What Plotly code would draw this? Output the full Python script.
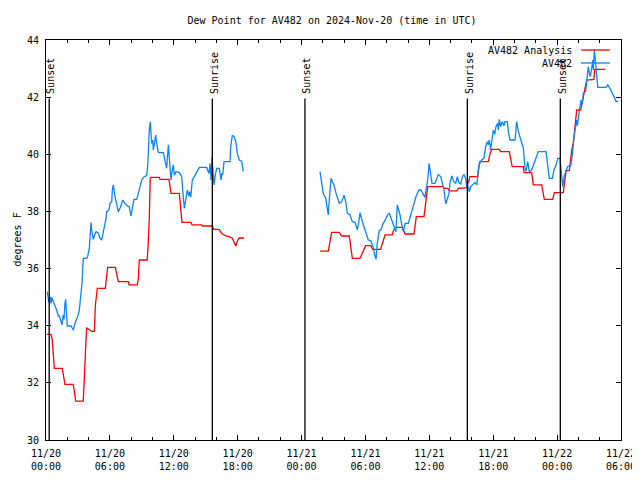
import pandas as pd
import plotly.graph_objects as go

# ---- data (hours since 2024-11-20 00:00 UTC, dew point in F) ----
START = "2024-11-20 00:00"

red_hours = [0.07, 0.47, 0.59, 0.69, 0.78, 1.53, 1.62, 1.78, 2.56, 2.70, 2.79, 3.50, 3.57, 3.66, 3.76, 3.82,
             4.07, 4.29, 4.54, 4.63, 4.82, 5.57, 5.66, 5.79, 6.51, 6.79, 7.73, 7.80, 8.57, 8.67, 8.76, 9.51,
             9.58, 9.70, 9.79, 9.86, 10.64, 10.71, 11.55, 11.74, 12.52, 12.61, 12.77, 13.62, 13.71, 14.62,
             14.69, 15.62, 15.75, 16.25, 16.50, 16.88, 17.19, 17.50, 17.82, 18.00, 18.13, 18.60,
             None,
             25.73, 26.51, 26.67, 26.83, 27.54, 27.77, 28.48, 28.62, 28.77, 29.49, 29.74, 30.02, 30.52, 30.68,
             31.43, 31.68, 31.84, 32.52, 32.62, 32.87, 33.46, 33.74, 34.56, 34.68, 34.78, 35.50, 35.59, 35.75,
             35.85, 37.31, 37.38, 37.72, 37.88, 38.57, 38.72, 39.51, 39.75, 39.82, 40.54, 40.60, 40.76, 41.54,
             41.70, 41.86, 42.57, 42.70, 43.51, 43.64, 43.78, 44.83, 44.89, 45.61, 45.76, 46.55, 46.70, 46.80,
             47.59, 47.74, 48.58, 48.68, 48.84, 49.15, 49.37, 49.52, 49.75, 49.84, 50.21, 50.46, 50.78, 51.45,
             51.54, 52.50]
red_vals = [33.70, 33.70, 33.50, 32.72, 32.51, 32.51, 32.24, 31.95, 31.95, 31.52, 31.36, 31.36, 31.81, 32.65,
            33.50, 33.93, 33.87, 33.80, 33.80, 34.69, 35.31, 35.31, 35.60, 36.04, 36.04, 35.54, 35.54, 35.43,
            35.43, 35.64, 36.30, 36.30, 36.77, 37.76, 39.16, 39.19, 39.19, 39.12, 39.12, 38.63, 38.63, 38.17,
            37.62, 37.62, 37.53, 37.53, 37.49, 37.49, 37.37, 37.37, 37.23, 37.14, 37.12, 37.06, 36.79, 36.98,
            37.07, 37.07,
            None,
            36.61, 36.61, 36.94, 37.27, 37.27, 37.14, 37.14, 36.71, 36.36, 36.36, 36.59, 36.80, 36.80, 36.67,
            36.67, 36.94, 37.18, 37.18, 37.32, 37.44, 37.44, 37.21, 37.21, 37.55, 37.82, 37.82, 38.07, 38.63,
            38.87, 38.87, 38.81, 38.81, 38.72, 38.72, 38.81, 38.83, 39.08, 39.22, 39.22, 39.45, 39.74, 39.74,
            40.03, 40.17, 40.17, 40.09, 40.09, 39.88, 39.57, 39.57, 39.36, 39.36, 38.93, 38.93, 38.69, 38.42,
            38.42, 38.66, 38.66, 38.98, 39.43, 39.43, 40.15, 40.38, 41.20, 41.55, 41.55, 42.02, 42.60, 42.62,
            42.97, 42.97]

blue_hours = [0.12, 0.25, 0.38, 0.47, 0.54, 0.69, 0.85, 1.00, 1.16, 1.25, 1.38, 1.50, 1.62, 1.69, 1.78, 1.85,
              2.00, 2.35, 2.47, 2.56, 2.72, 2.88, 3.03, 3.13, 3.19, 3.29, 3.38, 3.45, 3.50, 3.82, 3.92, 4.07,
              4.13, 4.23, 4.29, 4.44, 4.54, 4.70, 4.91, 5.07, 5.23, 5.32, 5.48, 5.61, 5.70, 5.92, 6.01, 6.17,
              6.23, 6.32, 6.48, 6.64, 6.79, 7.02, 7.20, 7.42, 7.64, 7.82, 7.98, 8.10, 8.26, 8.52, 8.67, 8.83,
              8.99, 9.14, 9.46, 9.55, 9.61, 9.70, 9.79, 9.93, 10.02, 10.08, 10.21, 10.30, 10.40, 10.55, 11.02,
              11.18, 11.33, 11.49, 11.58, 11.74, 11.83, 11.96, 12.05, 12.21, 12.52, 12.74, 12.89, 12.99, 13.12,
              13.27, 13.43, 13.52, 13.59, 13.74, 13.93, 14.15, 14.40, 15.09, 15.31, 15.40, 15.50, 15.59, 15.66,
              15.71, 15.78, 15.90, 16.03, 16.28, 16.43, 16.53, 16.59, 16.72, 17.28, 17.35, 17.50, 17.66, 17.82,
              17.97, 18.15, 18.38, 18.53,
              None,
              25.73, 25.83, 25.95, 26.04, 26.27, 26.51, 26.61, 26.77, 26.89, 27.05, 27.24, 27.45, 27.55, 27.77,
              27.99, 28.15, 28.30, 28.55, 28.77, 29.02, 29.24, 29.40, 29.49, 29.71, 29.87, 30.05, 30.27, 30.49,
              30.68, 30.80, 30.99, 31.11, 31.30, 31.46, 31.62, 31.77, 31.93, 32.09, 32.24, 32.40, 32.62, 32.87,
              32.99, 33.12, 33.25, 33.41, 33.56, 33.72, 34.02, 34.12, 34.34, 34.56, 34.75, 35.03, 35.22, 35.38,
              35.59, 35.75, 35.85, 35.97, 36.09, 36.25, 36.53, 36.69, 36.84, 37.07, 37.22, 37.38, 37.54, 37.69,
              37.85, 37.94, 38.10, 38.31, 38.48, 38.63, 38.79, 38.95, 39.10, 39.26, 39.42, 39.51, 39.60, 39.75,
              39.89, 40.04, 40.29, 40.45, 40.60, 40.69, 40.92, 41.13, 41.29, 41.45, 41.54, 41.63, 41.76, 41.91,
              42.01, 42.14, 42.26, 42.42, 42.48, 42.57, 42.70, 42.85, 43.01, 43.10, 43.32, 43.45, 43.58, 44.05,
              44.20, 44.36, 44.58, 44.83, 44.99, 45.08, 45.24, 45.39, 45.61, 45.83, 46.02, 46.23, 46.96, 47.12,
              47.27, 47.55, 47.71, 47.90, 48.06, 48.27, 48.43, 48.52, 48.65, 48.81, 48.99, 49.28, 49.43, 49.59,
              49.75, 49.84, 49.90, 50.08, 50.24, 50.37, 50.46, 50.68, 50.78, 50.93, 51.09, 51.19, 51.35, 51.40,
              51.50, 51.63, 51.72, 51.82, 52.60, 52.76, 52.91, 53.14, 53.38, 53.54, 53.75]
blue_vals = [35.19, 34.84, 35.02, 34.78, 34.99, 34.84, 34.73, 34.55, 34.34, 34.34, 34.20, 34.03, 34.38, 34.22,
             34.78, 34.92, 33.99, 33.99, 33.91, 33.85, 34.08, 34.22, 34.38, 34.55, 34.78, 35.07, 35.48, 36.01,
             36.36, 36.36, 36.44, 36.71, 37.00, 37.61, 37.35, 37.02, 37.15, 37.29, 37.25, 37.06, 37.00, 37.15,
             37.47, 37.70, 37.99, 38.05, 38.28, 38.34, 38.75, 38.93, 38.52, 38.17, 37.99, 38.17, 38.40, 38.28,
             38.19, 38.17, 37.84, 38.10, 38.42, 38.42, 38.63, 38.90, 39.10, 39.19, 39.26, 39.60, 40.27, 40.85,
             41.14, 40.38, 40.50, 40.15, 40.44, 40.67, 40.38, 40.06, 40.06, 39.80, 39.51, 40.33, 39.80, 39.10,
             39.39, 39.63, 39.27, 39.39, 39.36, 39.22, 38.52, 38.11, 38.40, 38.75, 38.54, 38.69, 38.50, 39.10,
             39.22, 39.39, 39.54, 39.54, 39.33, 39.68, 39.10, 39.89, 39.60, 39.16, 38.93, 39.28, 39.51, 39.51,
             39.10, 39.33, 39.28, 39.74, 39.74, 40.27, 40.67, 40.62, 40.44, 40.03, 39.80, 39.75, 39.39,
             None,
             39.39, 39.16, 38.75, 38.63, 38.46, 37.88, 38.46, 39.16, 39.04, 38.93, 38.63, 38.40, 38.28, 38.34,
             38.57, 38.34, 37.93, 37.88, 37.64, 37.62, 37.35, 37.70, 37.96, 37.64, 37.47, 37.29, 37.00, 36.97,
             36.82, 36.59, 36.32, 36.88, 37.33, 37.35, 37.55, 37.64, 37.76, 37.88, 37.93, 37.76, 37.53, 37.29,
             38.23, 38.06, 37.88, 37.53, 37.29, 37.58, 37.58, 37.70, 37.99, 38.28, 38.52, 38.75, 38.75, 38.63,
             38.49, 38.89, 39.10, 39.68, 39.28, 38.98, 38.98, 39.16, 39.28, 39.22, 38.98, 38.75, 38.26, 38.45,
             38.63, 38.98, 39.24, 39.04, 38.98, 39.22, 39.00, 38.96, 39.22, 39.28, 39.15, 38.87, 38.93, 38.69,
             38.87, 38.93, 39.01, 38.93, 39.39, 39.68, 39.80, 39.86, 40.27, 40.44, 40.33, 40.50, 40.15, 40.67,
             40.85, 40.70, 40.97, 41.08, 40.85, 41.22, 40.97, 41.14, 41.00, 41.14, 41.14, 40.73, 40.50, 40.50,
             41.14, 40.79, 40.50, 40.21, 39.51, 39.40, 39.74, 39.39, 39.45, 39.68, 39.86, 40.09, 40.09, 39.63,
             39.16, 39.16, 39.45, 39.63, 39.86, 39.86, 39.10, 38.87, 39.22, 39.39, 39.57, 39.60, 39.98, 40.62,
             41.08, 41.20, 41.00, 41.49, 41.90, 41.75, 42.13, 42.20, 42.66, 43.07, 42.72, 42.85, 43.30, 42.95,
             43.65, 43.12, 42.80, 42.34, 42.34, 42.43, 42.34, 42.19, 41.99, 41.84, 41.86]

event_labels = ["Sunset", "Sunrise", "Sunset", "Sunrise", "Sunset"]
event_hours = [0.30, 15.62, 24.32, 39.57, 48.30]

series_names = ["AV482 Analysis", "AV482"]
series_colors = ["#ff0000", "#0a84ff"]

x_start = "2024-11-20 00:00"
x_end = "2024-11-22 06:00"
y_range = [30, 44]
y_ticks = [30, 32, 34, 36, 38, 40, 42, 44]
title_text = "Dew Point for AV482 on 2024-Nov-20 (time in UTC)"
y_title = "degrees F"

FONT = "DejaVu Sans Mono"

# page body has an 8px margin: figure is drawn 8px right/down, so size it to fit the window
W, H = 632, 472
ML, MT, PW, PH = 38, 32, 575, 400


def to_time(hours):
    t0 = pd.Timestamp(START)
    return [None if h is None else t0 + pd.Timedelta(hours=h) for h in hours]


fig = go.Figure()
fig.add_trace(go.Scatter(x=to_time(red_hours), y=red_vals, mode="lines",
                         line=dict(color=series_colors[0], width=1.3),
                         name=series_names[0], connectgaps=False, showlegend=False))
fig.add_trace(go.Scatter(x=to_time(blue_hours), y=blue_vals, mode="lines",
                         line=dict(color=series_colors[1], width=1.3),
                         name=series_names[1], connectgaps=False, showlegend=False))

t0 = pd.Timestamp(START)
for lab, h in zip(event_labels, event_hours):
    t = t0 + pd.Timedelta(hours=h)
    fig.add_shape(type="line", xref="x", yref="y", x0=t, x1=t, y0=y_range[0], y1=41.95,
                  line=dict(color="black", width=1.3), layer="above")
    fig.add_annotation(x=t, y=42.05, xref="x", yref="y", text=lab, textangle=-90,
                       showarrow=False, xanchor="center", yanchor="bottom", xshift=2,
                       font=dict(family=FONT, size=10, color="black"))

# legend (gnuplot style: text right-aligned, sample on right)
leg_rows_y = [10, 23]   # px below plot top
for name, col, py in zip(series_names, series_colors, leg_rows_y):
    yp = 1 - py / PH
    fig.add_annotation(x=528 / PW, y=yp, xref="paper", yref="paper", text=name,
                       showarrow=False, xanchor="right", yanchor="middle",
                       font=dict(family=FONT, size=10, color="black"))
    fig.add_shape(type="line", xref="paper", yref="paper",
                  x0=535 / PW, x1=564 / PW, y0=yp, y1=yp,
                  line=dict(color=col, width=1.3))

fig.add_annotation(x=0, y=0.5, xref="paper", yref="paper", text=y_title, textangle=-90,
                   showarrow=False, xanchor="left", yanchor="middle", xshift=-ML + 1,
                   font=dict(family=FONT, size=10, color="black"))

fig.update_layout(
    width=W, height=H,
    margin=dict(l=ML, r=W - ML - PW, t=MT, b=H - MT - PH, pad=0, autoexpand=False),
    paper_bgcolor="white", plot_bgcolor="white",
    title=dict(text=title_text, x=324 / W, xanchor="center", y=1 - 12 / H, yanchor="middle",
               font=dict(family=FONT, size=10, color="black")),
    font=dict(family=FONT, size=10, color="black"),
    showlegend=False,
)
fig.update_xaxes(range=[x_start, x_end], type="date", dtick=6 * 3600 * 1000, tick0=x_start,
                 tickformat="%m/%d<br>%H:%M", ticks="inside", ticklen=5, tickcolor="black",
                 showline=True, linecolor="black", linewidth=1, mirror="ticks",
                 showgrid=False, zeroline=False, automargin=False, ticklabelstandoff=4,
                 minor=dict(dtick=2 * 3600 * 1000, ticks="inside", ticklen=3, tickcolor="black", showgrid=False),
                 tickfont=dict(family=FONT, size=10, color="black"))
fig.update_yaxes(range=y_range, tickvals=y_ticks, ticks="inside", ticklen=5, tickcolor="black",
                 showline=True, linecolor="black", linewidth=1, mirror="ticks",
                 showgrid=False, zeroline=False, automargin=False, ticklabelstandoff=4,
                 tickfont=dict(family=FONT, size=10, color="black"))

fig.write_html("out.html")
